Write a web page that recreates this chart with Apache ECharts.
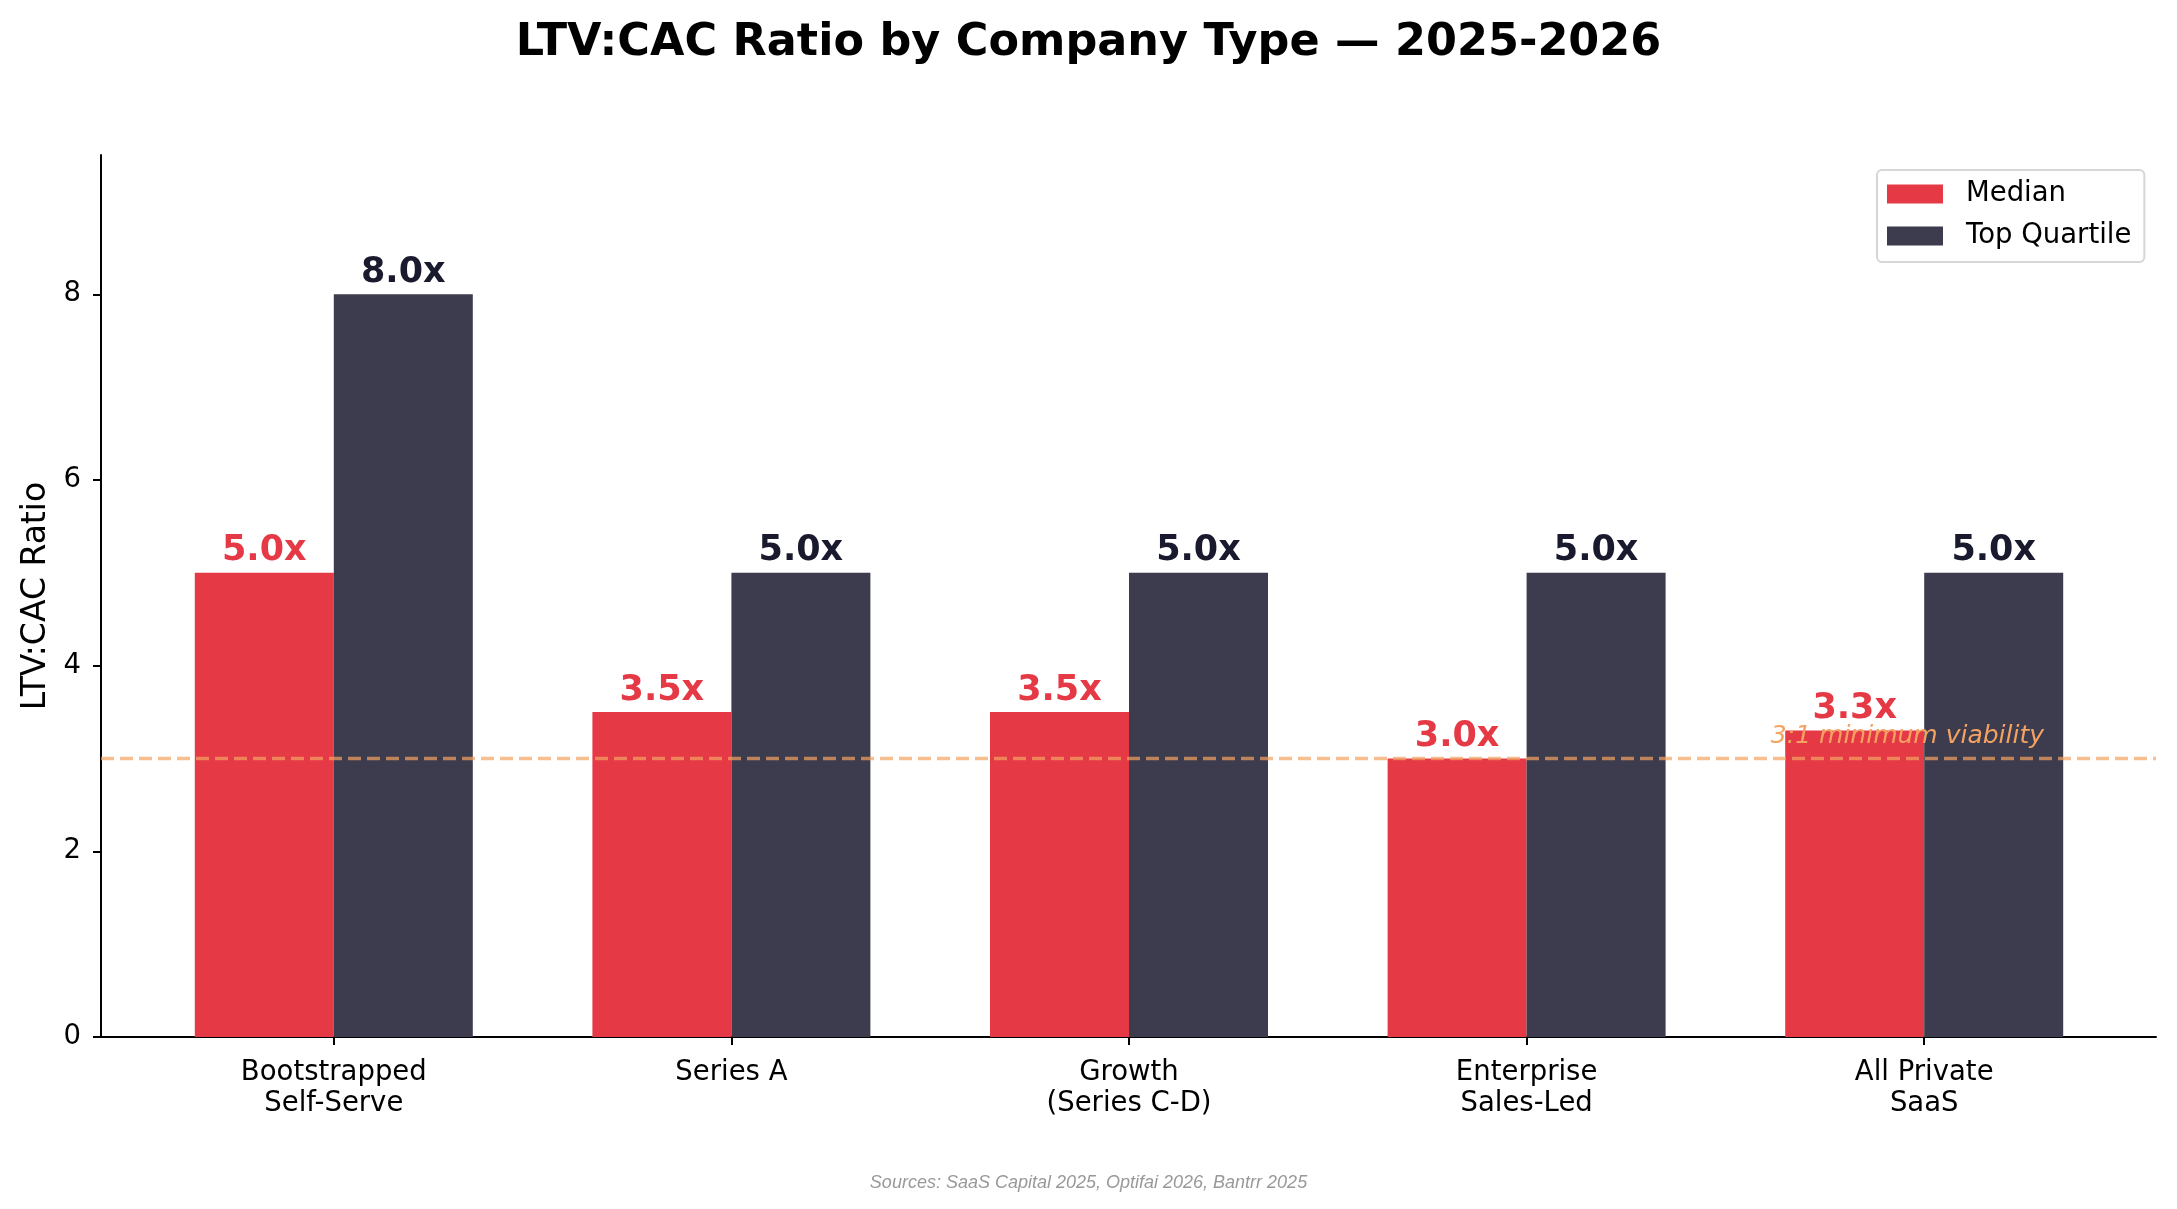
<!DOCTYPE html>
<html>
<head>
<meta charset="utf-8">
<title>LTV:CAC Ratio by Company Type</title>
<script src="https://cdn.jsdelivr.net/npm/echarts@6/dist/echarts.min.js"></script>
<style>
  html, body { margin: 0; padding: 0; background: #fff; }
  #chart { width: 2177px; height: 1209px; }
</style>
</head>
<body>
<div id="chart"></div>
<script>
// data
const categories = ['Bootstrapped\nSelf-Serve', 'Series A', 'Growth\n(Series C-D)', 'Enterprise\nSales-Led', 'All Private\nSaaS'];
const medianValues = [5.0, 3.5, 3.5, 3.0, 3.3];
const topQuartileValues = [8.0, 5.0, 5.0, 5.0, 5.0];
const yTicks = [0, 2, 4, 6, 8];
const threshold = 3.0;
const thresholdLabel = '3:1 minimum viability';

const RED = '#E63946';
const DARK = '#3D3C4E';
const FONT = 'DejaVu Sans';
const Y_MAX = 9.5;

const myChart = echarts.init(document.getElementById('chart'));

// grid 0 carries the spines + threshold line (full axes width),
// grid 1 carries the categories (matplotlib-like margins inside the axes)
const gridTop = 155, gridBottom = 172;

myChart.setOption({
    animation: false,
    backgroundColor: '#fff',
    title: [{
        text: 'LTV:CAC Ratio by Company Type — 2025-2026',
        left: 'center',
        top: 16,
        textStyle: { fontFamily: FONT, fontSize: 44.5, fontWeight: 'bold', color: '#000' }
    }, {
        text: 'Sources: SaaS Capital 2025, Optifai 2026, Bantrr 2025',
        left: 'center',
        top: 1169,
        textStyle: { fontFamily: 'Liberation Sans', fontSize: 18, fontStyle: 'italic', fontWeight: 'normal', color: '#999' }
    }],
    legend: {
        data: ['Median', 'Top Quartile'],
        orient: 'vertical',
        left: 1877,
        top: 170,
        icon: 'rect',
        itemWidth: 56,
        itemHeight: 19,
        itemGap: 12,
        padding: [9, 13, 11, 10],
        borderColor: '#d6d6d6',
        borderWidth: 2,
        borderRadius: 5,
        backgroundColor: 'rgba(255,255,255,0.85)',
        textStyle: { fontFamily: FONT, fontSize: 27.5, color: '#000', padding: [0, 0, 0, 18], lineHeight: 30 }
    },
    grid: [
        { left: 101, right: 21, top: gridTop, bottom: gridBottom },
        { left: 135, right: 54, top: gridTop, bottom: gridBottom }
    ],
    xAxis: [{
        gridIndex: 0,
        type: 'value',
        min: 0,
        max: 1,
        axisLine: { show: true, lineStyle: { color: '#000', width: 2 } },
        axisTick: { show: false },
        axisLabel: { show: false },
        splitLine: { show: false }
    }, {
        gridIndex: 1,
        type: 'category',
        data: categories,
        axisLine: { show: false },
        axisTick: { show: true, alignWithLabel: true, length: 8, lineStyle: { color: '#000', width: 2 } },
        axisLabel: { fontFamily: FONT, fontSize: 27.5, color: '#000', lineHeight: 31, margin: 20 },
        splitLine: { show: false }
    }],
    yAxis: [{
        gridIndex: 0,
        type: 'value',
        min: 0,
        max: Y_MAX,
        name: 'LTV:CAC Ratio',
        nameLocation: 'middle',
        nameGap: 48,
        nameTextStyle: { fontFamily: FONT, fontSize: 33, color: '#000' },
        axisLine: { show: true, lineStyle: { color: '#000', width: 2 } },
        axisTick: { show: true, length: 8, customValues: yTicks, lineStyle: { color: '#000', width: 2 } },
        axisLabel: { fontFamily: FONT, fontSize: 27.5, color: '#000', margin: 20, customValues: yTicks },
        splitLine: { show: false }
    }, {
        gridIndex: 1,
        type: 'value',
        min: 0,
        max: Y_MAX,
        show: false,
        splitLine: { show: false }
    }],
    series: [{
        name: 'Median',
        type: 'bar',
        xAxisIndex: 1,
        yAxisIndex: 1,
        data: medianValues,
        barWidth: 139,
        barGap: '0%',
        z: 2,
        itemStyle: { color: RED },
        label: {
            show: true,
            position: 'top',
            distance: 4,
            formatter: (p) => p.value.toFixed(1) + 'x',
            fontFamily: FONT,
            fontSize: 35,
            fontWeight: 'bold',
            color: RED
        }
    }, {
        name: 'Top Quartile',
        type: 'bar',
        xAxisIndex: 1,
        yAxisIndex: 1,
        data: topQuartileValues,
        barWidth: 139,
        barGap: '0%',
        z: 2,
        itemStyle: { color: DARK },
        label: {
            show: true,
            position: 'top',
            distance: 4,
            formatter: (p) => p.value.toFixed(1) + 'x',
            fontFamily: FONT,
            fontSize: 35,
            fontWeight: 'bold',
            color: '#1A1A2E'
        }
    }, {
        name: 'threshold',
        type: 'line',
        xAxisIndex: 0,
        yAxisIndex: 0,
        data: [[0, threshold], [1, threshold]],
        showSymbol: false,
        silent: true,
        z: 10,
        lineStyle: { color: '#F4A261', opacity: 0.7, width: 3.5, type: [13, 6] },
        markPoint: {
            symbol: 'circle',
            symbolSize: 0,
            silent: true,
            data: [{ coord: [0.9455, threshold + 0.1] }],
            label: {
                show: true,
                position: [0, 0],
                align: 'right',
                verticalAlign: 'bottom',
                formatter: thresholdLabel,
                fontFamily: FONT,
                fontSize: 25,
                fontStyle: 'italic',
                color: '#F4A261'
            }
        }
    }]
});

window.addEventListener('resize', () => {
    myChart.resize()
})
</script>
</body>
</html>
